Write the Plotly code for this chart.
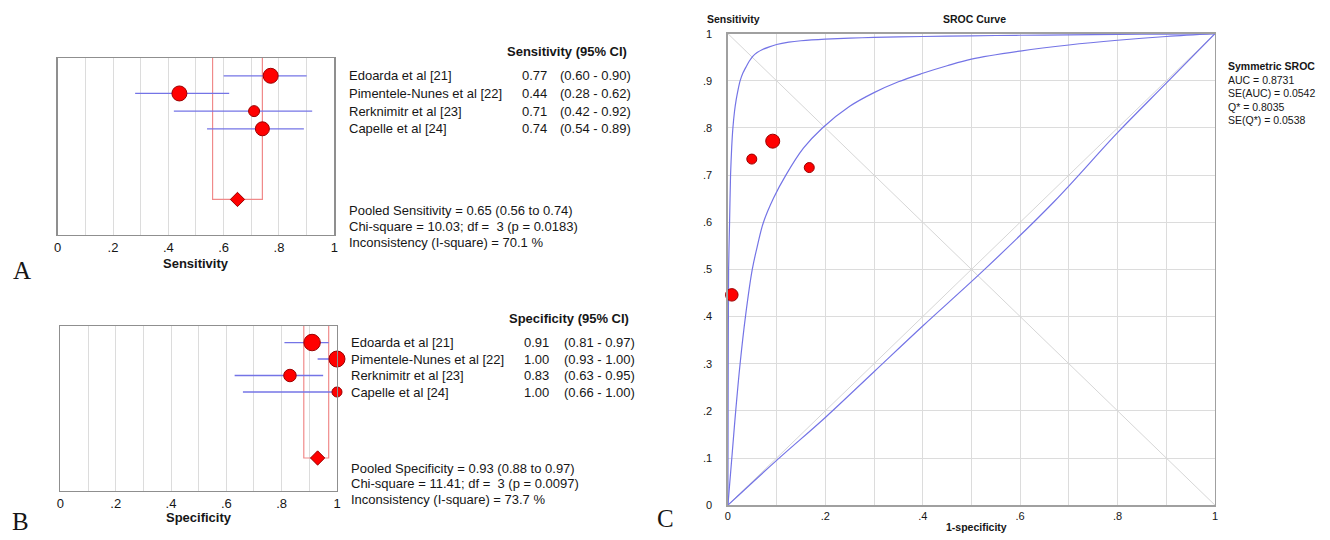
import plotly.graph_objects as go

W, H = 1330, 540

# ---------------- data ----------------
STUDIES = ["Edoarda et al [21]", "Pimentele-Nunes et al [22]", "Rerknimitr et al [23]", "Capelle et al [24]"]
SENS = [0.77, 0.44, 0.71, 0.74]
SENS_LO = [0.60, 0.28, 0.42, 0.54]
SENS_HI = [0.90, 0.62, 0.92, 0.89]
SPEC = [0.91, 1.00, 0.83, 1.00]
SPEC_LO = [0.81, 0.93, 0.63, 0.66]
SPEC_HI = [0.97, 1.00, 0.95, 1.00]
POOLED_SENS = [0.65, 0.56, 0.74]
POOLED_SPEC = [0.93, 0.88, 0.97]
HET_SENS = [10.03, 3, 0.0183, 70.1]   # chi-square, df, p, I-square
HET_SPEC = [11.41, 3, 0.0097, 73.7]

FOREST_TICKS = [0, 0.1, 0.2, 0.3, 0.4, 0.5, 0.6, 0.7, 0.8, 0.9, 1.0]
FOREST_TICKTEXT = ["0", "", ".2", "", ".4", "", ".6", "", ".8", "", "1"]

SROC_TICKS = [0, 0.1, 0.2, 0.3, 0.4, 0.5, 0.6, 0.7, 0.8, 0.9, 1.0]
SROC_YTICKTEXT = ["0", ".1", ".2", ".3", ".4", ".5", ".6", ".7", ".8", ".9", "1"]
SROC_XTICKTEXT = ["0", "", ".2", "", ".4", "", ".6", "", ".8", "", "1"]

# study points on SROC plane (1-specificity, sensitivity)
SROC_FPR = [0.092, 0.008, 0.167, 0.049]
SROC_TPR = [0.772, 0.446, 0.716, 0.734]

# SROC curve and its bounds
UP_FPR = [0, 0.0004, 0.0014, 0.0034, 0.0054, 0.0078, 0.0102, 0.0135, 0.017, 0.021, 0.025, 0.031, 0.0375,
          0.044, 0.051, 0.06, 0.07, 0.085, 0.1, 0.125, 0.15, 0.2, 0.25, 0.3, 0.4, 0.5, 0.6, 0.7, 0.8, 0.9, 1.0]
UP_TPR = [0, 0.2, 0.5, 0.6, 0.7, 0.76, 0.8, 0.835, 0.86, 0.882, 0.9, 0.917, 0.93,
          0.942, 0.952, 0.96, 0.966, 0.972, 0.977, 0.982, 0.985, 0.9885, 0.9905, 0.992, 0.994, 0.9955, 0.9966, 0.9975, 0.9984, 0.9992, 1.0]
MID_FPR = [0, 0.008, 0.016, 0.025, 0.036, 0.05, 0.061, 0.073, 0.094, 0.119, 0.155, 0.194, 0.25, 0.3, 0.35,
           0.4, 0.45, 0.5, 0.6, 0.7, 0.8, 0.9, 1.0]
MID_TPR = [0, 0.1, 0.2, 0.3, 0.4, 0.5, 0.552, 0.6, 0.652, 0.7, 0.757, 0.8, 0.846, 0.875, 0.898,
           0.916, 0.932, 0.946, 0.963, 0.976, 0.986, 0.994, 1.0]
LOW_FPR = [0, 0.1, 0.2, 0.3, 0.4, 0.527, 0.67, 0.8, 0.9, 1.0]
LOW_TPR = [0, 0.095, 0.186, 0.283, 0.38, 0.5, 0.644, 0.79, 0.895, 1.0]

SROC_LABELS = ["AUC", "SE(AUC)", "Q*", "SE(Q*)"]
SROC_VALUES = [0.8731, 0.0542, 0.8035, 0.0538]

# ---------------- styles ----------------
SENS_MARKER_PX = [15, 15, 11, 14]
SPEC_MARKER_PX = [16.5, 16, 12.5, 10]
SROC_MARKER_PX = [14, 12.5, 10, 10]
FONT = "Liberation Sans, Arial, sans-serif"
SERIF = "Liberation Serif, Times New Roman, serif"
RED = "#ff0000"
RED_EDGE = "#9a0000"
BLUE = "#7474e6"
BOX = "#f08a8a"
GRID = "#dcdcdc"
FRAME = "#8f8f8f"
TXT = "#161616"


def px(x):
    return x / W


def py(y):
    return 1 - y / H


fig = go.Figure()


def forest(xa, ya, vals, lo, hi, pooled, sizes):
    n = len(vals)
    rows = list(range(1, n + 1))
    prow = 8
    # pooled CI box
    fig.add_trace(go.Scatter(x=[pooled[1], pooled[1], pooled[2], pooled[2]], y=[0, prow, prow, 0],
                             mode="lines", line=dict(color=BOX, width=1.2), xaxis=xa, yaxis=ya,
                             hoverinfo="skip", cliponaxis=False))
    cx, cy = [], []
    for i in range(n):
        cx += [lo[i], hi[i], None]
        cy += [rows[i], rows[i], None]
    fig.add_trace(go.Scatter(x=cx, y=cy, mode="lines", line=dict(color=BLUE, width=1.3),
                             xaxis=xa, yaxis=ya, hoverinfo="skip"))
    fig.add_trace(go.Scatter(x=vals, y=rows, mode="markers",
                             marker=dict(color=RED, size=sizes, opacity=1, line=dict(color=RED_EDGE, width=1)),
                             xaxis=xa, yaxis=ya, cliponaxis=False))
    fig.add_trace(go.Scatter(x=[pooled[0]], y=[prow], mode="markers",
                             marker=dict(color=RED, size=11, opacity=1, symbol="diamond",
                                         line=dict(color=RED_EDGE, width=1)),
                             xaxis=xa, yaxis=ya, cliponaxis=False))


forest("x", "y", SENS, SENS_LO, SENS_HI, POOLED_SENS, SENS_MARKER_PX)
forest("x2", "y2", SPEC, SPEC_LO, SPEC_HI, POOLED_SPEC, SPEC_MARKER_PX)

# SROC panel
fig.add_trace(go.Scatter(x=[0, 1, None, 0, 1], y=[0, 1, None, 1, 0], mode="lines",
                         line=dict(color="#d6d6d6", width=1), xaxis="x3", yaxis="y3", hoverinfo="skip"))
for fx, fy, sm in [(UP_FPR, UP_TPR, 0.6), (MID_FPR, MID_TPR, 1.0), (LOW_FPR, LOW_TPR, 1.0)]:
    fig.add_trace(go.Scatter(x=fx, y=fy, mode="lines",
                             line=dict(color=BLUE, width=1.2, shape="spline", smoothing=sm),
                             xaxis="x3", yaxis="y3", hoverinfo="skip"))
fig.add_trace(go.Scatter(x=SROC_FPR, y=SROC_TPR, mode="markers",
                         marker=dict(color=RED, size=SROC_MARKER_PX, opacity=1, line=dict(color=RED_EDGE, width=1)),
                         xaxis="x3", yaxis="y3", cliponaxis=False))

forest_x = dict(range=[0, 1], tickmode="array", tickvals=FOREST_TICKS, ticktext=FOREST_TICKTEXT,
                showgrid=True, gridcolor=GRID, gridwidth=1, zeroline=False, showline=True,
                linecolor=FRAME, linewidth=1.5, mirror=True, ticks="",
                tickfont=dict(family=FONT, size=13, color=TXT), fixedrange=True)
forest_y = dict(range=[10, 0], showgrid=False, showticklabels=False, zeroline=False, showline=True,
                linecolor=FRAME, linewidth=1.5, mirror=True, ticks="", fixedrange=True)

sroc_common = dict(range=[0, 1], tickmode="array", tickvals=SROC_TICKS, showgrid=True, gridcolor=GRID,
                   gridwidth=1, zeroline=False, showline=True, linecolor="#a0a0a0", linewidth=1.5,
                   mirror=True, ticks="", tickfont=dict(family=FONT, size=11, color=TXT), fixedrange=True)

fig.update_layout(
    width=W, height=H, autosize=False,
    margin=dict(l=0, r=0, t=0, b=0),
    paper_bgcolor="white", plot_bgcolor="white", showlegend=False,
    font=dict(family=FONT, color=TXT),
    xaxis=dict(domain=[px(54), px(332.3)], anchor="y", **forest_x),
    yaxis=dict(domain=[py(234), py(53.3)], anchor="x", **forest_y),
    xaxis2=dict(domain=[px(56.7), px(335)], anchor="y2", **forest_x),
    yaxis2=dict(domain=[py(496), py(327.3)], anchor="x2", **forest_y),
    xaxis3=dict(domain=[px(728.3), px(1218.3)], anchor="y3", ticktext=SROC_XTICKTEXT, **sroc_common),
    yaxis3=dict(domain=[py(510.5), py(28.3)], anchor="x3", ticktext=SROC_YTICKTEXT,
                ticklabelstandoff=12, **sroc_common),
)

anns = []


def ann(text, x, y, size=13, bold=False, xanchor="left", yref="paper", family=FONT):
    anns.append(dict(text=("<b>%s</b>" % text) if bold else text, x=px(x), y=(py(y) if yref == "paper" else y),
                     xref="paper", yref=yref, xanchor=xanchor, yanchor="middle", showarrow=False,
                     font=dict(family=family, size=size, color=TXT)))


def forest_text(label, yref, hdr_y, name_x, val_x, ci_x, vals, lo, hi, pooled, het, pooled_ys, hdr_x):
    ann("%s (95%% CI)" % label, hdr_x, hdr_y, bold=True)
    for i, s in enumerate(STUDIES):
        ann(s, name_x, i + 1, yref=yref)
        ann("%.2f" % vals[i], val_x, i + 1, yref=yref)
        ann("(%.2f - %.2f)" % (lo[i], hi[i]), ci_x, i + 1, yref=yref)
    ann("Pooled %s = %.2f (%.2f to %.2f)" % (label, pooled[0], pooled[1], pooled[2]), name_x, pooled_ys[0])
    ann("Chi-square = %.2f; df = \u00a0%d (p = %.4f)" % (het[0], het[1], het[2]), name_x, pooled_ys[1])
    ann("Inconsistency (I-square) = %.1f %%" % het[3], name_x, pooled_ys[2])


forest_text("Sensitivity", "y", 46.7, 345, 519, 557, SENS, SENS_LO, SENS_HI, POOLED_SENS, HET_SENS,
            [209, 225, 241.5], 504)
forest_text("Specificity", "y2", 320, 347, 521, 561, SPEC, SPEC_LO, SPEC_HI, POOLED_SPEC, HET_SPEC,
            [472.7, 488.5, 504.5], 506)

ann("Sensitivity", 193, 263, bold=True, xanchor="center")
ann("Specificity", 196, 523, bold=True, xanchor="center")
ann("A", 18, 271, size=25, xanchor="center", family=SERIF)
ann("B", 17, 527, size=25, xanchor="center", family=SERIF)
ann("C", 665, 524, size=25, xanchor="center", family=SERIF)

ann("Sensitivity", 705, 13.5, size=10.5, bold=True)
ann("SROC Curve", 976, 13.5, size=10.5, bold=True, xanchor="center")
ann("1-specificity", 978, 533, size=10.5, bold=True, xanchor="center")
ann("Symmetric SROC", 1229, 61.7, size=10.5, bold=True)
for i, (lab, v) in enumerate(zip(SROC_LABELS, SROC_VALUES)):
    ann("%s = %.4f" % (lab, v), 1229, 75.5 + i * 13.7, size=10.5)

fig.update_layout(annotations=anns)

fig.write_html("out.html", config={"displayModeBar": False, "staticPlot": True},
               post_script="document.body.style.margin='0';")
